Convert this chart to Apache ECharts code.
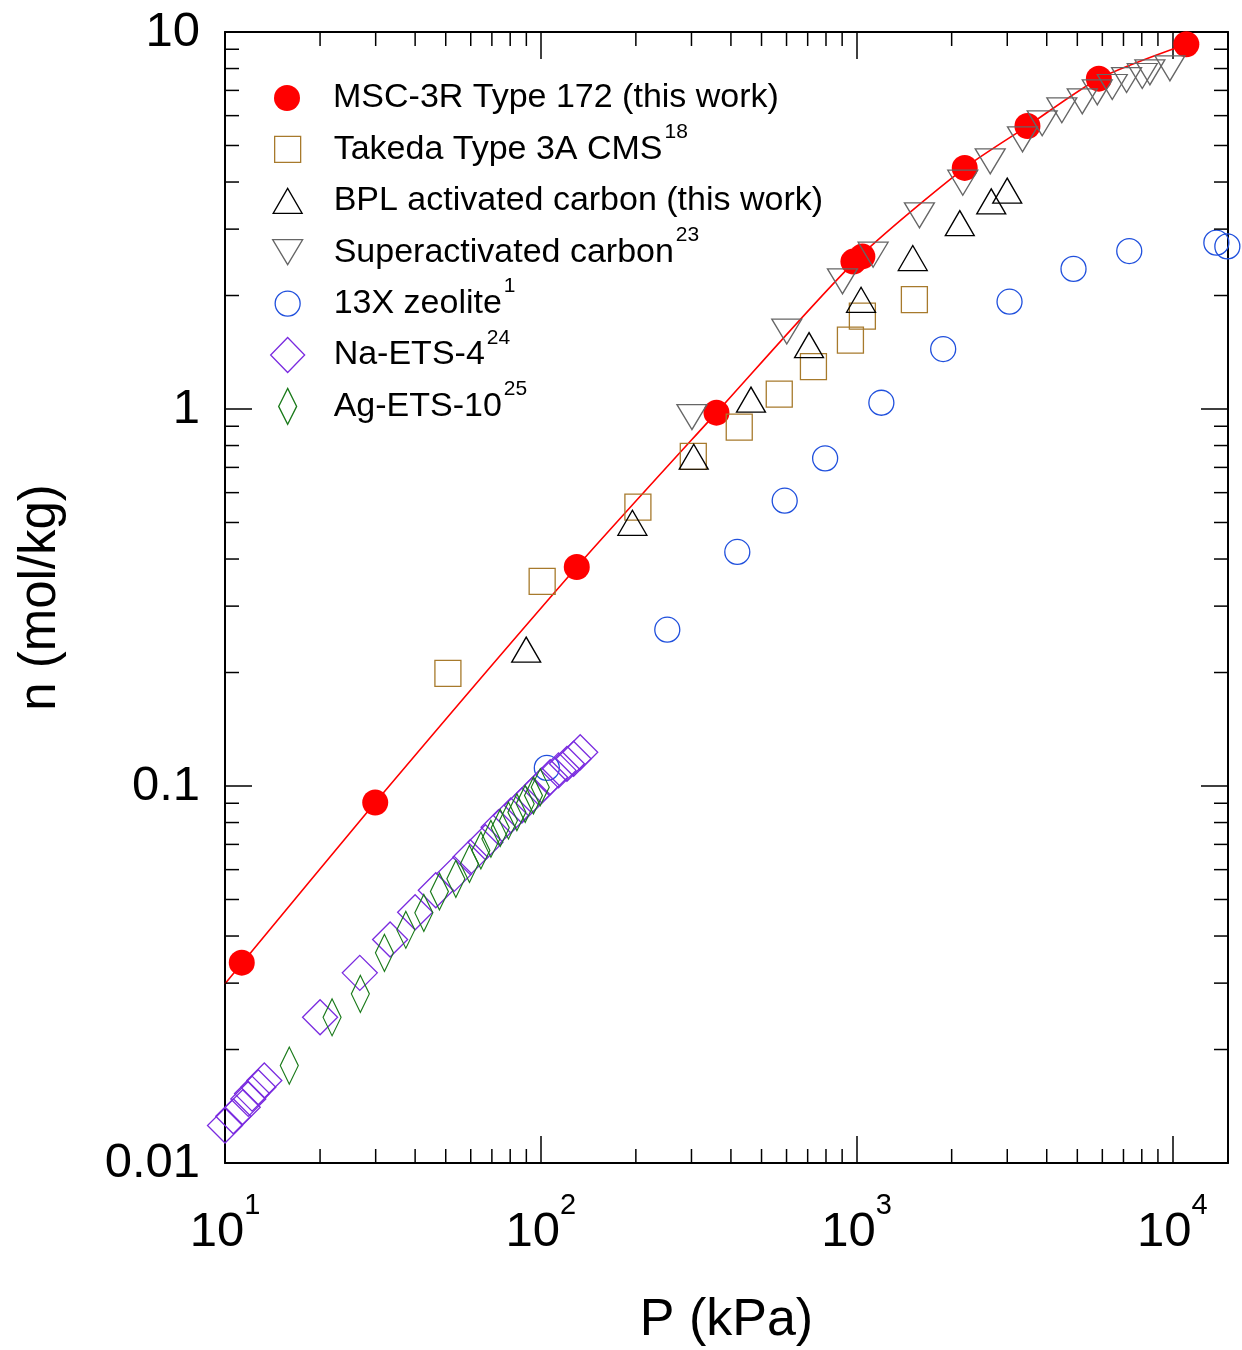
<!DOCTYPE html>
<html><head><meta charset="utf-8">
<script src="https://cdn.jsdelivr.net/npm/echarts@6/dist/echarts.min.js"></script>
<style>html,body{margin:0;padding:0;background:#fff}#chart{width:1242px;height:1350px}</style>
</head><body><div id="chart"></div>
<script>
// ---- data (P in kPa, n in mol/kg) ----
const msc3r = [[11.3,0.0340],[29.9,0.0904],[130,0.381],[360,0.978],[977,2.46],[1043,2.54],[2200,4.36],[3476,5.63],[5850,7.52],[11070,9.28]];
const msc3rFit = [[10,0.0299],[11.3,0.0338],[29.9,0.0904],[130,0.381],[360,0.978],[1000,2.49],[2200,4.36],[3476,5.63],[5850,7.52],[11070,9.28]];
const takeda = [[50.8,0.199],[101,0.349],[203,0.549],[304,0.749],[425,0.895],[569,1.095],[730,1.295],[956,1.523],[1043,1.764],[1524,1.951]];
const bpl = [[89.9,0.230],[195,0.499],[305,0.747],[463,1.059],[707,1.477],[1033,1.948],[1506,2.514],[2122,3.112],[2669,3.554],[2999,3.795]];
const superact = [[301,0.952],[601,1.605],[902,2.181],[1128,2.567],[1581,3.264],[2169,3.984],[2649,4.539],[3352,5.192],[3870,5.726],[4466,6.199],[5182,6.548],[5782,6.918],[6450,7.146],[7160,7.457],[8028,7.644],[8486,7.816],[9819,8.01]];
const zeolite13x = [[104.5,0.1117],[251.5,0.2598],[419,0.4177],[592,0.5712],[795,0.7397],[1198,1.039],[1880,1.442],[3050,1.926],[4863,2.353],[7301,2.624],[13780,2.762],[14930,2.700]];
const naEts4 = [[10.0,0.01257],[10.62,0.0133],[11.38,0.01405],[11.85,0.01479],[12.18,0.01528],[12.75,0.01588],[13.32,0.01655],[20.0,0.02435],[26.72,0.03194],[33.33,0.03915],[40.0,0.04626],[46.5,0.05291],[53.2,0.05848],[59.8,0.06474],[66.8,0.07094],[73.5,0.07773],[80.4,0.08351],[87.1,0.08877],[93.7,0.09436],[100.8,0.1003],[107.1,0.1055],[113.8,0.1100],[121,0.1145],[127,0.1181],[133.3,0.1229]];
const agEts10 = [[15.98,0.01813],[21.83,0.02435],[26.83,0.0281],[31.98,0.03609],[37.38,0.04155],[42.62,0.04609],[47.75,0.0525],[53.83,0.05673],[59.44,0.06216],[64.6,0.06745],[69.5,0.07244],[74.4,0.07746],[79.0,0.08098],[84.0,0.0852],[89.25,0.08969],[94.8,0.09436],[99.6,0.09927]];

const seriesNames = ['MSC-3R Type 172 (this work)','Takeda Type 3A CMS','BPL activated carbon (this work)','Superactivated carbon','13X zeolite','Na-ETS-4','Ag-ETS-10'];
const seriesRefs = ['','18','','23','1','24','25'];
const xTickExponents = ['1','2','3','4'];
const yTickLabels = ['0.01','0.1','1','10'];
const minorMultipliers = [2,3,4,5,6,7,8,9];
const xMinorDecades = [10,100,1000];
const yMinorDecades = [0.01,0.1,1];

// ---- styles ----
const FONT = 'Liberation Sans, Arial, Helvetica, sans-serif';
const seriesData = [msc3r, takeda, bpl, superact, zeolite13x, naEts4, agEts10];
const styles = [
  {symbol:'circle', size:[26,26], fill:'#ff0000', stroke:'#ff0000', rot:0, icon:null},
  {symbol:'rect', size:[26,26], fill:'rgba(0,0,0,0)', stroke:'#a77a2c', rot:0, icon:null},
  {symbol:'triangle', size:[29,25], fill:'rgba(0,0,0,0)', stroke:'#000000', rot:0, icon:null},
  {symbol:'triangle', size:[30,25], fill:'rgba(0,0,0,0)', stroke:'#666666', rot:180, icon:'path://M0,0L2,0L1,1.6667Z'},
  {symbol:'circle', size:[25,25], fill:'rgba(0,0,0,0)', stroke:'#2050dd', rot:0, icon:null},
  {symbol:'diamond', size:[35,35], fill:'rgba(0,0,0,0)', stroke:'#7a2be0', rot:0, icon:null},
  {symbol:'diamond', size:[18,37], fill:'rgba(0,0,0,0)', stroke:'#1a7a1a', rot:0, icon:null}
];

const xMinorTicks = [];
xMinorDecades.forEach(d => minorMultipliers.forEach(m => xMinorTicks.push(m * d)));
const yMinorTicks = [];
yMinorDecades.forEach(d => minorMultipliers.forEach(m => yMinorTicks.push(+(m * d).toPrecision(6))));

const chart = echarts.init(document.getElementById('chart'), null, {renderer:'canvas'});

const series = [];
series.push({
  type:'line', name:'fit', data: msc3rFit, showSymbol:false, symbol:'none', smooth:0.25,
  lineStyle:{color:'#ff0000', width:1.6}, z:2, silent:true, clip:false
});
seriesNames.forEach((n, i) => {
  const s = styles[i];
  series.push({
    type:'scatter', name:n, data: seriesData[i], symbol:s.symbol, symbolSize:s.size, symbolRotate:s.rot,
    itemStyle:{color:s.fill, borderColor:s.stroke, borderWidth: i === 0 ? 0 : 1.3, opacity:1},
    z: 3 + i, clip:false, silent:true
  });
});
// minor ticks drawn through the axes' scales
series.push({
  type:'custom', name:'minorX', xAxisIndex:0, yAxisIndex:0, silent:true, clip:false, z:10,
  data: xMinorTicks.map(v => [v, 1]),
  renderItem: (params, api) => {
    const cs = params.coordSys; const px = api.coord([api.value(0), 1])[0];
    const b = cs.y + cs.height, t = cs.y;
    return {type:'group', children:[
      {type:'line', shape:{x1:px,y1:b,x2:px,y2:b-14}, style:{stroke:'#000', lineWidth:1.5}},
      {type:'line', shape:{x1:px,y1:t,x2:px,y2:t+14}, style:{stroke:'#000', lineWidth:1.5}}
    ]};
  }
});
series.push({
  type:'custom', name:'minorY', xAxisIndex:0, yAxisIndex:0, silent:true, clip:false, z:10,
  data: yMinorTicks.map(v => [100, v]),
  renderItem: (params, api) => {
    const cs = params.coordSys; const py = api.coord([100, api.value(1)])[1];
    const l = cs.x, r = cs.x + cs.width;
    return {type:'group', children:[
      {type:'line', shape:{x1:l,y1:py,x2:l+14,y2:py}, style:{stroke:'#000', lineWidth:1.5}},
      {type:'line', shape:{x1:r,y1:py,x2:r-14,y2:py}, style:{stroke:'#000', lineWidth:1.5}}
    ]};
  }
});

const legendCenters = seriesNames.map((n, i) => 98 + 51.4 * i);
const legends = seriesNames.map((n, i) => {
  const s = styles[i];
  const w = s.size[0] > 34 ? 34 : s.size[0], h = s.size[1] > 36 ? 36 : s.size[1];
  const item = s.icon ? {name:n, icon:s.icon} : {name:n};
  return {
    data:[item], orient:'vertical', left: 287 - w / 2, top: legendCenters[i] - 27.5,
    itemWidth: w, itemHeight: h, padding:0, selectedMode:false,
    itemStyle:{borderWidth: i === 0 ? 0 : 1.3},
    formatter: name => {
      const k = seriesNames.indexOf(name);
      return '{m|' + name + '}' + (seriesRefs[k] ? '{s|' + seriesRefs[k] + '}' : '{s| }');
    },
    textStyle:{
      fontFamily:FONT, fontSize:34, lineHeight:55, color:'#000', padding:[0,0,0,41 - w / 2],
      rich:{
        m:{fontFamily:FONT, fontSize:34, lineHeight:55, color:'#000'},
        s:{fontFamily:FONT, fontSize:21, lineHeight:21, verticalAlign:'top', color:'#000', padding:[0,0,0,2]}
      }
    }
  };
});

const isPow10 = v => Math.abs(Math.log10(v) - Math.round(Math.log10(v))) < 1e-6;
const axisLineStyle = {show:true, onZero:false, lineStyle:{color:'#000', width:2}};
const majorTick = {show:true, inside:true, length:27, lineStyle:{color:'#000', width:1.5}};

const option = {
  animation:false,
  backgroundColor:'#ffffff',
  grid:{left:225, top:32, width:1003, height:1131, outerBoundsMode:'none', containLabel:false},
  xAxis:[
    {type:'log', logBase:10, min:10, max:15000, position:'bottom',
     axisLine:axisLineStyle, axisTick:majorTick, splitLine:{show:false}, minorTick:{show:false},
     axisLabel:{margin:28, showMaxLabel:true,
       formatter: v => {
         if (!isPow10(v)) return '';
         const e = String(Math.round(Math.log10(v)));
         if (xTickExponents.indexOf(e) < 0) return '';
         return '{b|10}{s|' + e + '}';
       },
       rich:{
         b:{fontFamily:FONT, fontSize:49, lineHeight:83, color:'#000'},
         s:{fontFamily:FONT, fontSize:29, lineHeight:29, verticalAlign:'top', color:'#000'}
       }},
     name:'P (kPa)', nameLocation:'middle', nameGap:132,
     nameTextStyle:{fontFamily:FONT, fontSize:52, color:'#000', verticalAlign:'top'}},
    {type:'log', logBase:10, min:10, max:15000, position:'top',
     axisLine:axisLineStyle, axisTick:majorTick, axisLabel:{show:false}, splitLine:{show:false}}
  ],
  yAxis:[
    {type:'log', logBase:10, min:0.01, max:10, position:'left',
     axisLine:axisLineStyle, axisTick:majorTick, splitLine:{show:false}, minorTick:{show:false},
     axisLabel:{margin:25, fontFamily:FONT, fontSize:49, color:'#000',
       formatter: v => {
         if (!isPow10(v)) return '';
         const e = Math.round(Math.log10(v));
         return yTickLabels[e + 2] || '';
       }},
     name:'n (mol/kg)', nameLocation:'middle', nameGap:159,
     nameTextStyle:{fontFamily:FONT, fontSize:51, color:'#000'}},
    {type:'log', logBase:10, min:0.01, max:10, position:'right',
     axisLine:axisLineStyle, axisTick:majorTick, axisLabel:{show:false}, splitLine:{show:false}}
  ],
  legend: legends,
  series: series
};
chart.setOption(option);
</script></body></html>
